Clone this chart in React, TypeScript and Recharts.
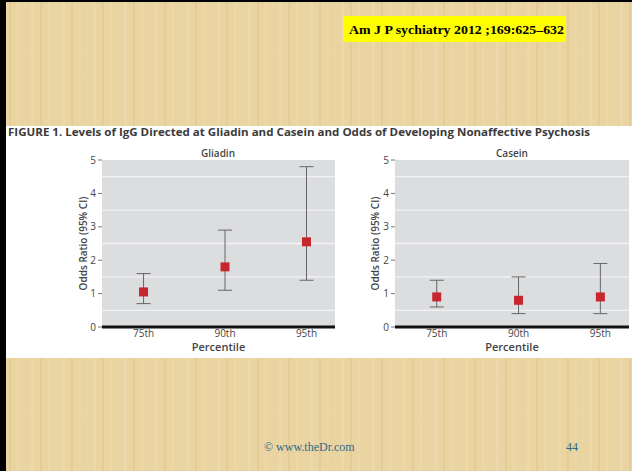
import React from 'react';
import { ComposedChart, Scatter, ErrorBar, XAxis, YAxis, CartesianGrid } from 'recharts';

const categories = ['75th', '90th', '95th'];
const gliadinOR = [1.05, 1.8, 2.55];
const gliadinLow = [0.7, 1.1, 1.4];
const gliadinHigh = [1.6, 2.9, 4.8];
const caseinOR = [0.9, 0.8, 0.9];
const caseinLow = [0.6, 0.4, 0.4];
const caseinHigh = [1.4, 1.5, 1.9];
const yTicks = [0, 1, 2, 3, 4, 5];
const gridValues = [0.5, 1, 1.5, 2, 2.5, 3, 3.5, 4, 4.5];
const xTicks = [1, 2, 3];

const figureTitle =
  'FIGURE 1. Levels of IgG Directed at Gliadin and Casein and Odds of Developing Nonaffective Psychosis';
const citation = 'Am J P sychiatry 2012 ;169:625\u2013632';
const footer = '\u00A9 www.theDr.com';
const slideNo = '44';

const FONT = '"Open Sans", "Noto Sans", sans-serif';

function build(or: number[], low: number[], high: number[]) {
  return categories.map((c, i) => ({
    pos: i + 1,
    cat: c,
    or: or[i],
    err: [or[i] - low[i], high[i] - or[i]],
  }));
}

const Square = (props: any) => {
  const { cx, cy } = props;
  if (cx == null || cy == null) return null;
  return <rect x={cx - 4.5} y={cy - 4.5} width={9} height={9} fill="#c7272c" />;
};

function Panel({
  data,
  left,
  width,
  marginLeft,
  marginRight,
  labelOffset,
}: {
  data: any[];
  left: number;
  width: number;
  marginLeft: number;
  marginRight: number;
  labelOffset: number;
}) {
  return (
    <div style={{ position: 'absolute', left, top: 140, width, height: 222 }}>
      <ComposedChart
        width={width}
        height={222}
        data={data}
        margin={{ top: 20, right: marginRight, bottom: 3, left: marginLeft }}
      >
        <CartesianGrid
          vertical={false}
          horizontalValues={gridValues}
          stroke="#f1f2f3"
          strokeWidth={1.3}
          fill="#dcdddf"
          fillOpacity={1}
        />
        <XAxis
          dataKey="pos"
          type="number"
          domain={[0.49, 3.35]}
          ticks={xTicks}
          tickFormatter={(v: number) => categories[v - 1]}
          height={32}
          axisLine={{ stroke: '#111', strokeWidth: 3 }}
          tickLine={false}
          tickSize={0}
          tickMargin={3}
          tick={{ fill: '#444', fontSize: 10, fontFamily: FONT }}
          allowDataOverflow
          label={{
            value: 'Percentile',
            position: 'insideBottom',
            offset: 8,
            style: { fill: '#444', fontSize: 11, fontWeight: 600, fontFamily: FONT },
          }}
        />
        <YAxis
          type="number"
          domain={[0, 5]}
          ticks={yTicks}
          width={40}
          axisLine={false}
          tickLine={{ stroke: '#777' }}
          tickSize={4}
          tickMargin={2}
          tick={{ fill: '#444', fontSize: 10, fontFamily: FONT }}
          label={{
            value: 'Odds Ratio (95% CI)',
            angle: -90,
            position: 'insideLeft',
            offset: labelOffset,
            style: { textAnchor: 'middle', fill: '#444', fontSize: 10, fontWeight: 600, fontFamily: FONT },
          }}
        />
        <Scatter dataKey="or" shape={<Square />} isAnimationActive={false}>
          <ErrorBar dataKey="err" direction="y" width={7} stroke="#666" strokeWidth={1} />
        </Scatter>
      </ComposedChart>
    </div>
  );
}

export default function App() {
  const gliadin = build(gliadinOR, gliadinLow, gliadinHigh);
  const casein = build(caseinOR, caseinLow, caseinHigh);
  return (
    <div
      style={{
        position: 'absolute',
        left: 0,
        top: 0,
        width: 632,
        height: 471,
        overflow: 'hidden',
        backgroundColor: '#ead4a2',
        backgroundImage:
          'repeating-linear-gradient(90deg, rgba(255,255,255,0.10) 0px, rgba(255,255,255,0.10) 3px, rgba(0,0,0,0) 3px, rgba(0,0,0,0) 9px, rgba(190,150,70,0.12) 9px, rgba(190,150,70,0.12) 11px, rgba(0,0,0,0) 11px, rgba(0,0,0,0) 17px, rgba(255,255,255,0.08) 17px, rgba(255,255,255,0.08) 19px, rgba(0,0,0,0) 19px, rgba(0,0,0,0) 31px), repeating-linear-gradient(0deg, rgba(190,150,70,0.05) 0px, rgba(190,150,70,0.05) 1px, rgba(0,0,0,0) 1px, rgba(0,0,0,0) 9px)',
      }}
    >
      <div style={{ position: 'absolute', left: 0, top: 0, width: 632, height: 2, background: '#000' }} />
      <div style={{ position: 'absolute', left: 0, top: 0, width: 6, height: 471, background: '#000' }} />
      <div style={{ position: 'absolute', left: 6, top: 126, width: 626, height: 232, background: '#fff' }} />

      <svg style={{ position: 'absolute', left: 0, top: 0 }} width={632} height={471}>
        <rect x={343} y={16} width={223} height={26} fill="#ffff00" />
        <text
          x={349}
          y={34}
          textLength={215}
          lengthAdjust="spacingAndGlyphs"
          fontFamily='"Liberation Serif", "Times New Roman", serif'
          fontWeight={700}
          fontSize={13.5}
          fill="#000"
        >
          {citation}
        </text>
        <text
          x={8}
          y={136}
          textLength={582}
          lengthAdjust="spacingAndGlyphs"
          fontFamily={FONT}
          fontWeight={700}
          fontSize={10.5}
          fill="#3a3a3a"
        >
          {figureTitle}
        </text>
        <text x={218} y={157} textAnchor="middle" fontFamily={FONT} fontWeight={600} fontSize={10} fill="#444">
          Gliadin
        </text>
        <text x={512} y={157} textAnchor="middle" fontFamily={FONT} fontWeight={600} fontSize={10} fill="#444">
          Casein
        </text>
        <text
          x={264}
          y={451}
          fontFamily='"Liberation Serif", "Times New Roman", serif'
          fontSize={12}
          fill="#2d6a88"
        >
          {footer}
        </text>
        <text
          x={566}
          y={451}
          fontFamily='"Liberation Serif", "Times New Roman", serif'
          fontSize={12}
          fill="#2d6a88"
        >
          {slideNo}
        </text>
      </svg>

      <Panel data={gliadin} left={40} width={310} marginLeft={22} marginRight={15} labelOffset={21} />
      <Panel data={casein} left={345} width={287} marginLeft={10} marginRight={3} labelOffset={20} />
    </div>
  );
}
